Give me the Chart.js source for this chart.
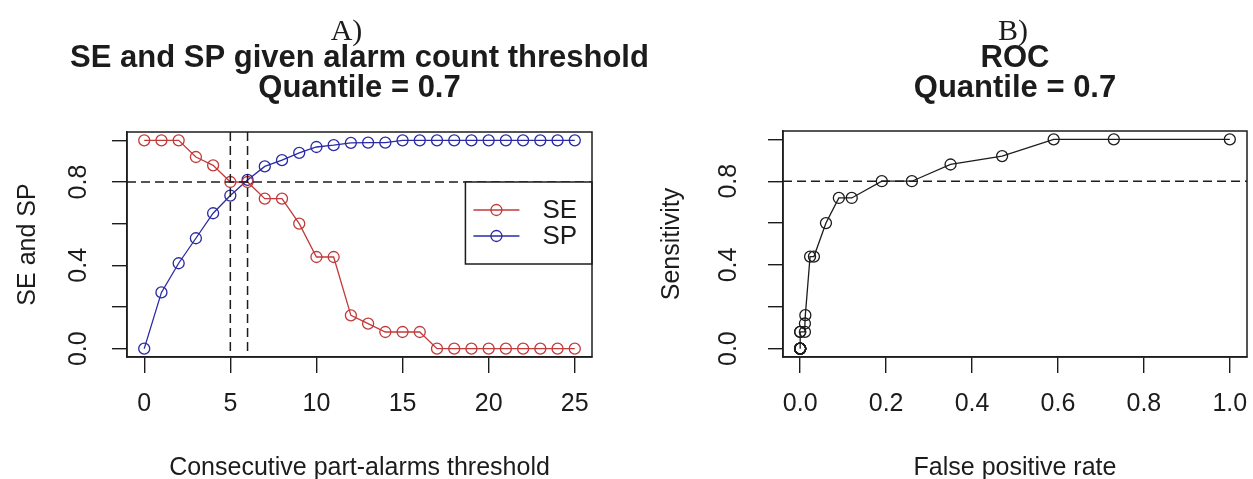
<!DOCTYPE html>
<html>
<head>
<meta charset="utf-8">
<script src="https://cdn.jsdelivr.net/npm/chart.js@4/dist/chart.umd.min.js"></script>
<style>
  html, body { margin: 0; padding: 0; background: #ffffff; }
  #wrap { position: relative; width: 1253px; height: 479px; overflow: hidden; }
  #panelA { position: absolute; left: 0; top: 0; }
  #panelB { position: absolute; left: 640px; top: 0; }
</style>
</head>
<body>
<div id="wrap">
  <canvas id="panelA" width="680" height="479"></canvas>
  <canvas id="panelB" width="613" height="479"></canvas>
</div>
<script>
// ---- data ----
const thresholds = [0, 1, 2, 3, 4, 5, 6, 7, 8, 9, 10, 11, 12, 13, 14, 15, 16, 17, 18, 19, 20, 21, 22, 23, 24, 25];
const seValues = [1, 1, 1, 0.92, 0.88, 0.8, 0.8, 0.72, 0.72, 0.6, 0.44, 0.44, 0.16, 0.12, 0.08, 0.08, 0.08, 0, 0, 0, 0, 0, 0, 0, 0, 0];
const spValues = [0, 0.27, 0.41, 0.53, 0.65, 0.735, 0.81, 0.875, 0.905, 0.94, 0.968, 0.977, 0.988, 0.989, 0.989, 1, 1, 1, 1, 1, 1, 1, 1, 1, 1, 1];
const rocFpr = [1, 0.73, 0.59, 0.47, 0.35, 0.26, 0.19, 0.12, 0.09, 0.06, 0.032, 0.023, 0.012, 0.011, 0.011, 0, 0, 0, 0, 0, 0, 0, 0, 0, 0, 0];
const rocSensitivity = [1, 1, 1, 0.92, 0.88, 0.8, 0.8, 0.72, 0.72, 0.6, 0.44, 0.44, 0.16, 0.12, 0.08, 0.08, 0.08, 0, 0, 0, 0, 0, 0, 0, 0, 0];

const thresholdTicks = [0, 5, 10, 15, 20, 25];
const fprTicks = [0, 0.2, 0.4, 0.6, 0.8, 1];
const fprTickLabels = ['0.0', '0.2', '0.4', '0.6', '0.8', '1.0'];
const rateTicks = [0, 0.2, 0.4, 0.6, 0.8, 1];
const rateTickLabels = ['0.0', '', '0.4', '', '0.8', ''];

const targetRate = 0.8;          // horizontal dashed reference
const markedThresholds = [5, 6]; // vertical dashed references

// ---- styles ----
const RED = '#c23a3a';
const BLUE = '#2a2aa6';
const INK = '#1c1c1c';
const SANS = '"Liberation Sans", Arial, sans-serif';
const SERIF = '"Liberation Serif", "Times New Roman", serif';
const AXIS_SIZE = 25;

function pts(xs, ys) { return xs.map((x, i) => ({ x: x, y: ys[i] })); }

function seriesStyle(color) {
  return {
    borderColor: color,
    pointBorderColor: color,
    backgroundColor: 'rgba(0,0,0,0)',
    pointBackgroundColor: 'rgba(0,0,0,0)',
    pointRadius: 5.5,
    pointBorderWidth: 1.3,
    borderWidth: 1.3,
    tension: 0,
    fill: false
  };
}

function fixedTicks(values) {
  return scale => { scale.ticks = values.map(v => ({ value: v })); };
}

function gridOpts(len) {
  return { drawOnChartArea: false, drawTicks: true, tickLength: len, color: INK, lineWidth: 1.4 };
}

// Panel decorations: box, reference lines, rotated y tick labels, legend, headings
const panelDecor = {
  id: 'panelDecor',
  afterDatasetsDraw(chart, args, opts) {
    const ctx = chart.ctx;
    const area = chart.chartArea;
    const xs = chart.scales.x, ys = chart.scales.y;
    ctx.save();

    // dashed reference lines
    ctx.strokeStyle = INK;
    ctx.lineWidth = 1.5;
    ctx.setLineDash([9, 5]);
    const yRef = ys.getPixelForValue(opts.hLine);
    ctx.beginPath();
    ctx.moveTo(area.left, yRef);
    ctx.lineTo(area.right, yRef);
    ctx.stroke();
    (opts.vLines || []).forEach(v => {
      const xp = xs.getPixelForValue(v);
      ctx.beginPath();
      ctx.moveTo(xp, area.top);
      ctx.lineTo(xp, area.bottom);
      ctx.stroke();
    });
    ctx.setLineDash([]);

    // legend box
    if (opts.legend) {
      const lg = opts.legend;
      const lx = xs.getPixelForValue(lg.x);
      const ly = ys.getPixelForValue(lg.y);
      const w = area.right - lx;
      const h = lg.height;
      ctx.fillStyle = '#ffffff';
      ctx.fillRect(lx, ly, w, h);
      ctx.strokeStyle = INK;
      ctx.lineWidth = 1.5;
      ctx.strokeRect(lx, ly, w, h);
      chart.data.datasets.forEach((ds, i) => {
        const cy = ly + lg.firstRow + i * lg.rowGap;
        ctx.strokeStyle = ds.borderColor;
        ctx.lineWidth = 1.3;
        ctx.beginPath();
        ctx.moveTo(lx + 8, cy);
        ctx.lineTo(lx + 54, cy);
        ctx.stroke();
        ctx.beginPath();
        ctx.arc(lx + 31, cy, 5.5, 0, Math.PI * 2);
        ctx.stroke();
        ctx.fillStyle = INK;
        ctx.font = '26px ' + SANS;
        ctx.textAlign = 'left';
        ctx.textBaseline = 'middle';
        ctx.fillText(ds.label, lx + 77, cy + 1);
      });
    }

    // plot frame
    ctx.strokeStyle = INK;
    ctx.lineWidth = 1.5;
    ctx.strokeRect(area.left, area.top, area.right - area.left, area.bottom - area.top);

    // rotated y tick labels
    ctx.fillStyle = INK;
    ctx.font = AXIS_SIZE + 'px ' + SANS;
    ctx.textAlign = 'center';
    ctx.textBaseline = 'middle';
    rateTicks.forEach((v, i) => {
      const label = rateTickLabels[i];
      if (!label) return;
      const yp = ys.getPixelForValue(v);
      ctx.save();
      ctx.translate(area.left - opts.yLabelGap, yp);
      ctx.rotate(-Math.PI / 2);
      ctx.fillText(label, 0, 0);
      ctx.restore();
    });

    // headings
    const cx = (area.left + area.right) / 2;
    ctx.textAlign = 'center';
    ctx.textBaseline = 'alphabetic';
    ctx.font = '30px ' + SERIF;
    ctx.fillText(opts.panelTag, cx + opts.tagShift, 40);
    ctx.font = 'bold 31px ' + SANS;
    opts.heading.forEach((line, i) => ctx.fillText(line, cx, 67 + i * 30));

    ctx.restore();
  }
};

function baseOptions(cfg) {
  return {
    responsive: false,
    animation: false,
    devicePixelRatio: 1,
    layout: { padding: cfg.padding, autoPadding: false },
    plugins: {
      legend: { display: false },
      tooltip: { enabled: false },
      panelDecor: cfg.decor
    },
    scales: {
      x: {
        type: 'linear',
        min: cfg.xMin, max: cfg.xMax,
        afterBuildTicks: fixedTicks(cfg.xTicks),
        afterFit: s => { s.height = 122; s.paddingLeft = 0; s.paddingRight = 0; },
        grid: gridOpts(16),
        border: { display: true, color: INK, width: 1.5 },
        ticks: {
          color: INK, autoSkip: false, maxRotation: 0, padding: 16,
          font: { family: SANS, size: AXIS_SIZE },
          callback: (v, i) => cfg.xLabels[i]
        },
        title: {
          display: true, text: cfg.xTitle, color: INK,
          font: { family: SANS, size: AXIS_SIZE, lineHeight: 1 },
          padding: { top: 0, bottom: -2 }
        }
      },
      y: {
        type: 'linear',
        min: -0.04, max: 1.04,
        afterBuildTicks: fixedTicks(rateTicks),
        afterFit: s => { s.width = cfg.yWidth; s.paddingTop = 0; s.paddingBottom = 0; },
        grid: gridOpts(15),
        border: { display: true, color: INK, width: 1.5 },
        ticks: { display: false },
        title: {
          display: true, text: cfg.yTitle, color: INK,
          font: { family: SANS, size: AXIS_SIZE, lineHeight: 1 },
          padding: { top: cfg.yTitlePad, bottom: 0 }
        }
      }
    }
  };
}

new Chart(document.getElementById('panelA'), {
  type: 'line',
  data: {
    datasets: [
      Object.assign({ label: 'SE', data: pts(thresholds, seValues) }, seriesStyle(RED)),
      Object.assign({ label: 'SP', data: pts(thresholds, spValues) }, seriesStyle(BLUE))
    ]
  },
  options: baseOptions({
    padding: { top: 132, right: 88, bottom: 0, left: 0 },
    xMin: -1, xMax: 26,
    xTicks: thresholdTicks,
    xLabels: thresholdTicks.map(String),
    xTitle: 'Consecutive part-alarms threshold',
    yTitle: 'SE and SP',
    yWidth: 127,
    yTitlePad: 16,
    decor: {
      hLine: targetRate,
      vLines: markedThresholds,
      legend: { x: 18.65, y: targetRate, height: 82, firstRow: 28, rowGap: 26 },
      yLabelGap: 48,
      panelTag: 'A)',
      tagShift: -13,
      heading: ['SE and SP given alarm count threshold', 'Quantile = 0.7']
    }
  }),
  plugins: [panelDecor]
});

new Chart(document.getElementById('panelB'), {
  type: 'line',
  data: {
    datasets: [
      Object.assign({ label: 'ROC', data: pts(rocFpr, rocSensitivity) }, seriesStyle(INK))
    ]
  },
  options: baseOptions({
    padding: { top: 131, right: 6, bottom: 0, left: 0 },
    xMin: -0.04, xMax: 1.04,
    xTicks: fprTicks,
    xLabels: fprTickLabels,
    xTitle: 'False positive rate',
    yTitle: 'Sensitivity',
    yWidth: 143,
    yTitlePad: 20,
    decor: {
      hLine: targetRate,
      vLines: [],
      legend: null,
      yLabelGap: 54,
      panelTag: 'B)',
      tagShift: -2,
      heading: ['ROC', 'Quantile = 0.7']
    }
  }),
  plugins: [panelDecor]
});
</script>
</body>
</html>
